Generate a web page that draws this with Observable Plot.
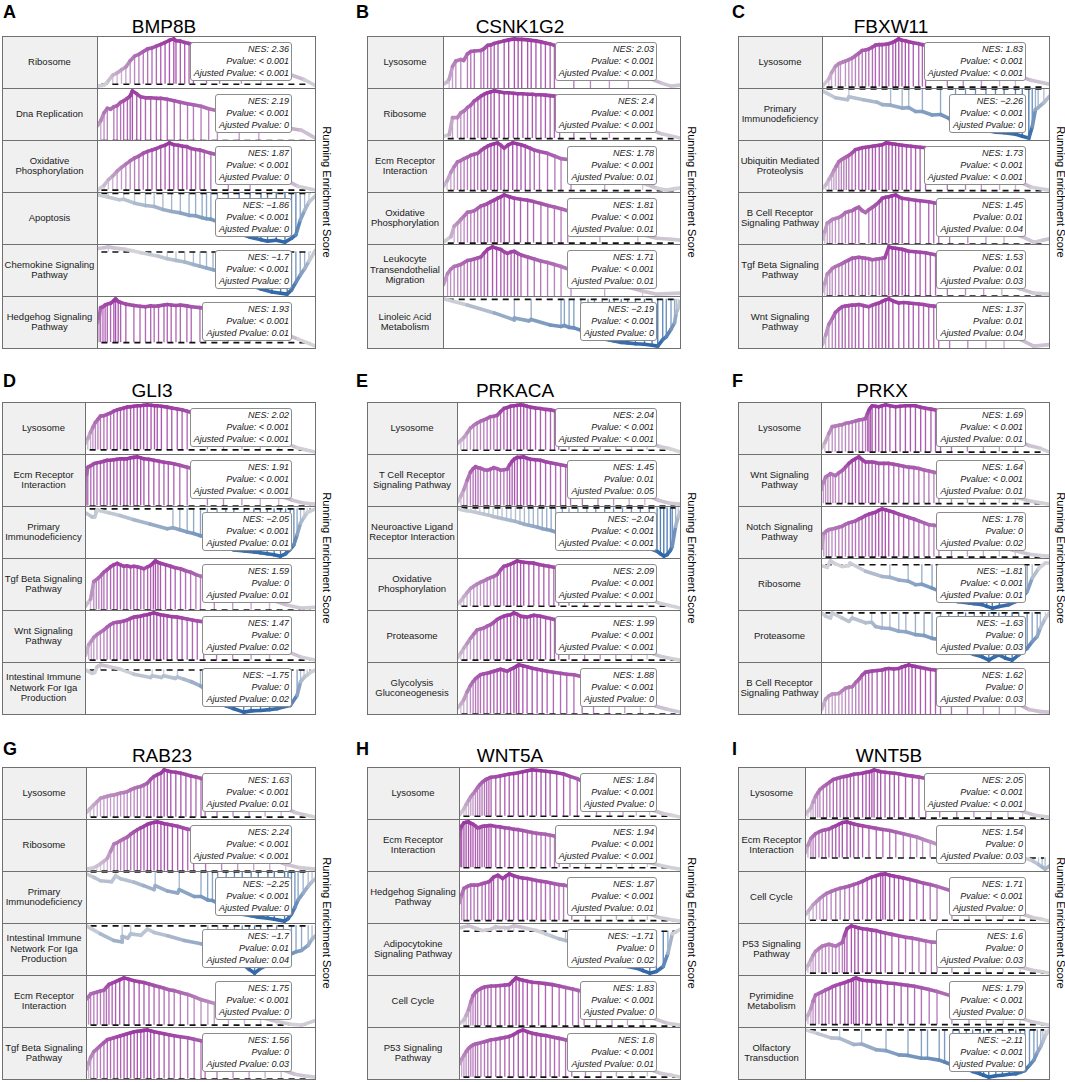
<!DOCTYPE html>
<html><head><meta charset="utf-8">
<script src="https://cdn.jsdelivr.net/npm/d3@7"></script>
<script src="https://cdn.jsdelivr.net/npm/@observablehq/plot@0.6"></script>
<style>
body{margin:0;background:#fff;font-family:"Liberation Sans",Arial,Helvetica,sans-serif;}
#root{position:relative;width:1065px;height:1082px;overflow:hidden;background:#fff;}
#root div{position:absolute;box-sizing:border-box;}
.letter{font-weight:bold;font-size:18px;line-height:1;color:#000;}
.title{font-size:19px;line-height:1;white-space:nowrap;transform:translateX(-50%);color:#000;}
.lab{background:#f0f0f0;display:flex;align-items:center;justify-content:center;text-align:center;white-space:pre;font-size:9.5px;line-height:10.5px;color:#1a1a1a;}
.cell{overflow:hidden;}
.box{background:#fff;border:1px solid #8c8c8c;border-radius:3px;font-style:italic;font-size:9px;line-height:12.2px;text-align:right;padding:0 2px 0 3px;white-space:nowrap;color:#1a1a1a;}
.yl{font-size:11px;line-height:1;white-space:nowrap;transform:translate(-50%,-50%) rotate(90deg);color:#000;}
.ln{background:#707070;}
</style></head>
<body><div id="root"></div>
<script>
// ---------------- data ----------------
const letters = ["A","B","C","D","E","F","G","H","I"];
const genes = ["BMP8B","CSNK1G2","FBXW11","GLI3","PRKACA","PRKX","RAB23","WNT5A","WNT5B"];
const pathways = [
  ["Ribosome","Dna Replication","Oxidative\nPhosphorylation","Apoptosis","Chemokine Signaling\nPathway","Hedgehog Signaling\nPathway"],
  ["Lysosome","Ribosome","Ecm Receptor\nInteraction","Oxidative\nPhosphorylation","Leukocyte\nTransendothelial\nMigration","Linoleic Acid\nMetabolism"],
  ["Lysosome","Primary\nImmunodeficiency","Ubiquitin Mediated\nProteolysis","B Cell Receptor\nSignaling Pathway","Tgf Beta Signaling\nPathway","Wnt Signaling\nPathway"],
  ["Lysosome","Ecm Receptor\nInteraction","Primary\nImmunodeficiency","Tgf Beta Signaling\nPathway","Wnt Signaling\nPathway","Intestinal Immune\nNetwork For Iga\nProduction"],
  ["Lysosome","T Cell Receptor\nSignaling Pathway","Neuroactive Ligand\nReceptor Interaction","Oxidative\nPhosphorylation","Proteasome","Glycolysis\nGluconeogenesis"],
  ["Lysosome","Wnt Signaling\nPathway","Notch Signaling\nPathway","Ribosome","Proteasome","B Cell Receptor\nSignaling Pathway"],
  ["Lysosome","Ribosome","Primary\nImmunodeficiency","Intestinal Immune\nNetwork For Iga\nProduction","Ecm Receptor\nInteraction","Tgf Beta Signaling\nPathway"],
  ["Lysosome","Ecm Receptor\nInteraction","Hedgehog Signaling\nPathway","Adipocytokine\nSignaling Pathway","Cell Cycle","P53 Signaling\nPathway"],
  ["Lysosome","Ecm Receptor\nInteraction","Cell Cycle","P53 Signaling\nPathway","Pyrimidine\nMetabolism","Olfactory\nTransduction"]
];
const nes = [
  [2.36, 2.19, 1.87, -1.86, -1.7, 1.93],
  [2.03, 2.4, 1.78, 1.81, 1.71, -2.19],
  [1.83, -2.26, 1.73, 1.45, 1.53, 1.37],
  [2.02, 1.91, -2.05, 1.59, 1.47, -1.75],
  [2.04, 1.45, -2.04, 2.09, 1.99, 1.88],
  [1.69, 1.64, 1.78, -1.81, -1.63, 1.62],
  [1.63, 2.24, -2.25, -1.7, 1.75, 1.56],
  [1.84, 1.94, 1.87, -1.71, 1.83, 1.8],
  [2.05, 1.54, 1.71, 1.6, 1.79, -2.11]
];
const pvalues = [
  ["< 0.001","< 0.001","< 0.001","< 0.001","< 0.001","< 0.001"],
  ["< 0.001","< 0.001","< 0.001","< 0.001","< 0.001","< 0.001"],
  ["< 0.001","< 0.001","< 0.001","0.01","0.01","0.01"],
  ["< 0.001","< 0.001","< 0.001","0","0","0"],
  ["< 0.001","0.01","< 0.001","< 0.001","< 0.001","< 0.001"],
  ["< 0.001","< 0.001","0","< 0.001","0","0"],
  ["< 0.001","< 0.001","< 0.001","0.01","< 0.001","0"],
  ["< 0.001","< 0.001","< 0.001","0","< 0.001","< 0.001"],
  ["< 0.001","0","< 0.001","0","< 0.001","< 0.001"]
];
const padjusted = [
  ["< 0.001","0","0","0","0","0.01"],
  ["< 0.001","< 0.001","0.01","0.01","0.01","0"],
  ["< 0.001","0","< 0.001","0.04","0.03","0.04"],
  ["< 0.001","< 0.001","0.01","0.01","0.02","0.02"],
  ["< 0.001","0.05","< 0.001","< 0.001","< 0.001","0"],
  ["0.01","0.01","0.02","0.01","0.03","0.03"],
  ["0.01","< 0.001","0","0.04","0","0.03"],
  ["0","< 0.001","0.01","0.02","0","0.01"],
  ["< 0.001","0.03","0","0.03","0","0"]
];
// running enrichment score: "rank%:score" (h = gene hit drawn as a vertical line)
const curvesA = [
  "0:-4 3:-2 5:8h 7:20h 9:25h 11:32h 13:38h 15:52h 17:62h 19:66h 21:72h 23:78h 25:80h 27:84h 29:88h 31:92h 33:97h 35:100h 36:96h 38:95h 40:92h 42:90h 44:88h 50:80h 56:72h 60:65 66:58h 70:50 75:44h 80:35 88:22 95:10 100:-3",
  "0:30 1.5:40h 3:56h 4.5:65h 6:63 7.5:68h 9:70h 10.6:77h 12:80h 13.7:85h 15:90h 16:100h 18:94h 19.8:88h 22:86h 24.4:86h 27:85h 29:85h 32:83h 35.2:80h 38:77h 41.3:74h 44:72h 47.5:69h 51:64h 55:60h 60:55 65:50h 70:45 74:42h 80:35 88:25 93.5:21 100:5",
  "0:0 3:10h 5:22h 7:30h 9:40h 11:48h 13:55h 15:62h 17:68h 19:72h 21:78h 23:82h 25:85h 27:88h 29:92h 31:95h 33:100h 35:96h 37:95h 39:93h 41:92h 43:88h 45:86h 47:85h 49:82h 52:78h 55:75 60:68h 65:60 70:52h 75:45 85:25 92:8 100:0",
  "0:-3 5:-8h 10:-13 12:-12h 17:-20h 22:-25h 26:-27h 30:-33h 34:-37h 38:-40h 42:-45h 45:-46h 48:-50h 50:-52h 52:-53h 55:-58h 60:-70h 65:-82h 70:-90h 75:-95h 78:-98h 82:-96h 86:-100h 89:-92h 91:-85h 93:-55h 95:-35h 97:-18h 100:-5h",
  "0:8 3:10 5:12h 8:9 10:8h 13:6 16:3h 20:-2 24:-6h 28:-10 32:-16h 36:-20h 40:-24h 44:-30h 47:-34h 50:-38h 53:-42h 56:-48h 60:-55h 65:-66h 70:-78h 75:-88h 80:-95h 84:-98h 87:-100h 89:-90h 91:-72h 93:-55h 95:-40h 97:-22h 100:4h",
  "0:45 0.7:55h 1.4:80h 2.5:82h 3.5:86h 4.5:88h 6:90h 7.5:96h 8.3:100h 9.5:94h 10.6:92h 13:88h 16.7:85h 19.5:83h 22:82h 24.4:84h 26:83h 28:84h 30.5:86h 32:87h 33.8:86h 36:85h 38:86h 41:84h 43:82h 47:80h 49.5:77h 55:70 60:62h 65:55 70:48h 75:40 85:22 92:8 100:-8"
];
const curvesB = [
  "0:10 1.5:14 2.4:20h 3.8:45h 5.2:56h 7.3:59h 8.5:57 10.1:70h 11.5:75h 13:76h 15.8:77h 17:80h 18.6:87h 20:88h 21.4:91h 23:93h 25.6:96h 27.5:98h 29.9:100h 31.5:99h 33:99h 35.5:98h 37:97h 39:96h 41.1:94h 43:92h 45:90h 46.8:87h 49.6:84 55:75h 62:62h 70:50h 78:38h 85:25 92:12 96:6 100:8",
  "0:5 2.4:8 3.8:44h 5.9:44h 7.3:54h 8.7:58h 10.1:65h 11.5:70h 13:79h 14.5:84h 15.8:89h 17.2:93h 18.6:96h 20:98h 21.4:100h 23.5:98h 25.6:96h 27.5:96h 29.5:95h 31.3:94h 33.5:94h 35.5:93h 37.5:93h 39:92h 41.1:92h 43:91h 45:90h 46.8:89h 49:87h 55:78h 62:64h 70:50h 78:36 86:22 92:10 100:1",
  "0:9 1.5:20h 3.1:38h 4.5:50h 5.9:60h 7.3:63h 8.7:67h 10.1:70h 11.5:74h 13:76h 14.4:78h 15.8:84h 17.2:89h 18.6:93h 20:96h 21.4:98h 22.8:100h 24.2:95h 25.6:89h 27.4:96h 29.2:100h 31:98h 32.7:96h 34.5:93h 36.5:89h 38.3:85h 40.5:82h 43.9:78h 47:72h 49.6:67h 53.8:64h 60:52 68:40h 76:28 84:16h 90:5 94:1 100:6",
  "0:2 3.1:13 4.5:35h 6:42h 7.3:49h 8.7:56h 10.1:64h 11.5:65h 13:67h 14.4:72h 15.8:77h 17.2:79h 18.6:82h 20:86h 21.4:89h 22.8:93h 24.2:96h 25.6:100h 27.8:96h 29.9:93h 32.5:91h 35.5:89h 38:86h 41.1:82h 44:78h 46.8:75h 49.6:71h 52.4:67h 58:56 66:44h 74:32 82:20h 90:10 96:8 100:6",
  "0:25 1.7:47h 3:55h 4.5:61h 6:63h 7.3:65h 8.7:69h 10.1:73h 11.5:74h 13:76h 14.4:78h 15.8:80h 17.2:88h 18.6:95h 20.7:100h 22.4:97h 24.2:95h 25.6:90h 27:87h 28.5:90h 29.9:91h 31.3:87h 32.7:84h 35.5:80h 38.3:76h 41:72h 43.9:69h 46.8:65h 49.6:61h 53.8:54h 60:44 68:33h 76:22 84:12h 90:6 100:8",
  "0:1 10:-12 21.4:-29 29.9:-44 29.9:-40h 36:-46 37:-43h 45:-55 49.6:-58h 51:-56h 53:-60h 55:-61h 58:-66h 61:-72h 63.7:-80h 67:-84h 70:-87h 72:-89h 75:-92h 77.7:-93h 81:-95h 84.8:-96h 88:-98h 90.4:-100h 92.5:-86h 94:-80h 96:-64h 97.5:-50h 98.2:-29h 99:-18h 100:-4h"
];
const curvesC = [
  "0:2 2.8:17h 4:30h 5.7:43h 7:48h 7.9:50h 9:52 10.1:54h 11.6:57h 13:60h 14.5:65h 16:70h 17.5:76h 19:77h 20.4:79h 22:83h 23.3:87h 25:88h 26.3:88h 28:89h 29.2:90h 31:93h 32.2:96h 33.6:100h 35:97h 36.5:96h 38:94h 40:92h 42.4:90h 44:88h 45.4:87h 48:85 55:75h 62:63h 70:50h 78:37h 85:25h 92:14 100:6",
  "0:-4 5.7:-18 11:-22 11.6:-16h 18:-22 24:-27 26.3:-32 30:-33h 35.1:-39h 38:-38h 41:-46 44:-46h 48.3:-53 52:-52h 55.7:-60 58.6:-70h 63:-74h 67.4:-81h 72:-84h 76.2:-88h 80:-89h 85:-92h 88:-96h 90.9:-100h 92.4:-77h 93.8:-42h 95:-38h 97.5:-28h 100:-15h",
  "0:5 1.5:12h 2.8:23h 4:32h 5:42h 6:50h 7.2:60h 8.3:64h 9.4:67h 10.5:70h 11.6:73h 13:78h 14.5:85h 16:87h 17.5:89h 19:90h 20.4:91h 22:92h 23.3:93h 25:94h 26.3:95h 28:99h 29.2:98h 30.7:97h 32.2:96h 33.6:95h 35.1:94h 37:93h 39:92h 41:91h 43:90h 45.4:89h 48:86 55:75h 63:62h 70:48h 78:35h 85:22h 92:7 100:1",
  "0:10 1:25h 2.1:43h 3.2:46h 4.3:50h 5.7:52h 7.2:54h 8.6:58h 10.1:64h 11.5:66h 13.1:68h 14.5:72h 16:75h 17.5:68 18.9:64 20.4:70h 22:75h 23.3:79h 25:86h 26.3:93h 27.8:95h 29.2:96h 30.7:98h 32.2:100h 33.6:96h 35.1:93h 38:91h 41:89h 43:88h 46.8:86h 49:84h 51.2:82h 56:74h 64:60h 72:45h 80:30h 88:15 93:4 97:8 100:11",
  "0:10 1:25h 2.1:45h 3.2:50h 4.3:56h 5.7:60h 7.2:63h 8.6:66h 10.1:70h 11.5:73h 13.1:77h 14.5:78h 16:79h 17.5:78h 18.9:77h 20.4:76h 21.9:74h 23.5:75h 25:76h 26.3:77h 27.5:78h 29.2:100h 30.7:98h 32.2:97h 33.6:96h 35.1:95h 36.5:93h 38:91h 41:90h 43:89h 45.4:88h 47.5:86h 49.8:84h 55:75h 63:60h 71:45h 79:30h 87:15 93:6 100:4",
  "0:12 1.4:30h 2.8:51h 4.3:62h 5.7:74h 7.2:80h 8.7:85h 10:86h 11.6:87h 13:88h 14.5:88h 16:89h 18:87h 20.4:85h 22:88h 23.5:90h 24.8:92h 26.3:95h 27.8:98h 29.2:100h 31:96h 33.6:92h 35.8:93h 38:92h 40:91h 42.4:90h 44.5:89h 46.8:87h 49:86h 51.2:85h 56:76h 64:62h 72:48h 80:34h 88:20 93:9 100:12"
];
const curvesD = [
  "0:15 1:25h 2.2:39h 3.2:50h 4.3:61h 5.4:68h 6.5:75h 8:76h 9.4:79h 10.9:82h 12.3:86h 13.8:89h 15.2:91h 16.7:93h 18:95h 19.6:96h 21:97h 22.5:98h 23.9:98h 25.3:99h 26.8:100h 28.5:99h 30:98h 31.2:98h 33:97h 35.5:95h 37.5:93h 39.9:91h 42:89h 44.2:86h 46.8:82 53:72h 60:60h 68:46h 76:33h 84:20h 92:5 96:0 100:-5",
  "0:50 0.5:65h 1:79h 2.3:82h 3.6:86h 5:88h 6.5:89h 8:91h 9.4:93h 10.8:93h 12.3:94h 13.7:95h 15.2:96h 16.7:96h 18.1:96h 19.5:98h 21:99h 22.5:100h 24:98h 25.4:96h 27.5:95h 29.7:93h 32:91h 34.1:89h 36:88h 38.4:86h 41:83h 44.2:79h 46.8:76 53:68h 60:58h 68:46h 76:34h 84:22h 90:12 95:6 100:4",
  "0:-8 2.9:-17 4:-17h 5.1:-2h 6.5:-4 10:-8 15:-14 21:-23 28:-32 35.5:-42 38:-40h 41:-44h 44.2:-49h 47:-52h 50:-57h 53:-60h 57.2:-70h 61:-80h 64.5:-87h 69:-89h 73.2:-91h 76:-93h 79:-95h 82:-97h 84.8:-100h 87:-95h 89:-86h 90.6:-76h 92:-55h 93.5:-30h 95:-18h 96.4:-8h 100:0h",
  "0:8 2.2:22h 3.6:58h 4.7:62h 5.8:66h 7:72h 8:77h 9.4:82h 10.9:88h 12.3:92h 13.8:95h 15.2:92h 16.7:89h 18:90h 19.6:88h 21:89h 22.5:88h 24:86h 25.4:84h 27:88h 28.3:91h 29.5:96h 30.4:100h 31.5:97h 32.6:95h 34.8:92h 37:89h 39:86h 41.3:84h 43.5:80h 45.7:77h 48:72h 50:69h 56:60h 64:48h 72:35h 80:22h 88:10 94:4 100:6",
  "0:10 1.4:33h 2.5:40h 3.6:48h 5:54h 6.5:59h 8:64h 9.4:70h 10.8:75h 12.3:79h 13.7:80h 15.2:81h 16.7:83h 18.1:85h 19.5:88h 21:91h 22.5:92h 23.9:93h 25.3:95h 26.8:96h 28.2:98h 29.7:100h 31:98h 32.6:96h 34:95h 35.5:94h 37.5:92h 39.9:91h 42:89h 44.2:87h 46.5:85h 48.6:83h 51.4:81h 57:72h 64:60h 72:46h 80:32h 88:18 94:6 100:0",
  "0:0 2.9:-8 4:-6h 5.1:8h 6.5:12h 10:8 15:2 21:-10 28.3:-18 29:-14h 33:-18 34:-14h 39:-20 40:-17h 42.8:-22 46:-28 50:-38h 53:-50h 57.2:-75h 61:-85h 64.5:-92h 68.8:-100h 72:-97h 76.1:-96h 80:-94h 83.3:-92h 86:-88h 89.1:-84h 92:-60h 93.5:-28h 95:-18h 96.4:-12h 98:-5h 100:0h"
];
const curvesE = [
  "0:15 1.5:22h 2.8:28h 4.3:38h 5.8:49h 7.3:55h 8.8:60h 10.3:64h 11.8:67h 13.3:70h 14.8:74h 16.3:75h 17.8:77h 19.3:85h 20.8:92h 22.3:94h 23.8:97h 25.3:98h 26.8:99h 28.3:100h 29.7:99h 31.2:97h 32.7:95h 35:93h 37.2:92h 39.5:90h 41.7:89h 43.5:87h 45.4:86h 50:78h 57:66h 64:54h 71:42h 78:30h 85:18h 91:8 95:4 100:-4",
  "0:8 1.5:20h 2.8:33h 4.3:52h 5.8:69h 7:76h 8.1:80h 9.2:78h 10.3:77h 11.8:74h 13.3:73h 14.8:75h 16.3:78h 17.8:76h 19.3:73h 20.8:74h 22.3:75h 23.4:84h 24.5:91h 25.6:96h 26.8:99h 28.3:99h 29.7:100h 31.2:97h 32.7:95h 35:94h 37.2:93h 39.5:90h 41.7:88h 44:86h 46.2:84h 48.5:82h 50.7:80h 56:72h 63:60h 70:48h 77:36h 84:24h 90:12 95:6 100:4",
  "0:-2 2:-4h 4:-6h 6:-7h 8:-9h 10:-11h 12:-13h 14:-15h 16:-18h 18:-20h 20:-22h 22:-24h 24:-26h 26:-28h 28:-31h 30:-34h 32:-36h 34:-38h 36:-40h 38:-43h 40:-45h 42:-47h 44:-50h 47:-52h 50:-55h 54:-58h 58:-61h 62:-64h 66:-67h 70:-70h 74:-73h 78:-76h 82:-80h 86:-84h 89.5:-90h 91:-95h 92.5:-100h 94:-97h 95.5:-88h 96.3:-80h 97.8:-38h 99:-18h 100:-8h",
  "0:5 1.5:12h 2.8:21h 4.3:30h 5.8:39h 7.3:44h 8.8:49h 10.3:53h 11.8:56h 13.3:60h 14.8:63h 16.3:66h 17.8:70h 19.3:80h 20.8:88h 22.3:90h 23.8:93h 25.3:96h 26.8:100h 28.3:98h 29.7:97h 32:96h 34.2:95h 36.5:92h 38.7:90h 41:88h 43.2:86h 45.4:85h 50:78h 57:66h 64:54h 71:42h 78:30h 85:18h 91:6 95:2 100:-4",
  "0:5 1.5:15h 2.8:25h 4.3:35h 5.8:46h 7.3:55h 8.8:64h 10.3:66h 11.8:68h 13.3:72h 14.8:75h 16.3:80h 17.8:86h 19.3:90h 20.8:93h 22.3:95h 23.8:96h 25.3:100h 26.8:97h 28.3:93h 29.7:92h 31.2:91h 32.7:93h 34.2:95h 35.7:94h 37.2:93h 39.5:90h 41.7:88h 43.5:86h 45.4:84h 50:77h 57:66h 64:54h 71:42h 78:30h 85:18h 91:8 95:4 100:0",
  "0:12 1.5:20h 2.8:29h 4.3:45h 5.8:58h 7:66h 8.1:72h 9.2:76h 10.3:80h 11.8:82h 13.3:83h 14.8:85h 16.3:87h 17.8:89h 19.3:91h 20.8:89h 22.3:87h 23.8:91h 25.3:94h 26.4:97h 27.5:100h 29.3:98h 31.2:96h 33.5:93h 35.7:91h 38:89h 40.2:87h 43:85h 46.2:83h 49:81h 52.2:80h 55.9:76h 61:68h 68:56h 75:44h 82:30h 89:16 94:10 100:4"
];
const curvesF = [
  "0:8 1.5:20h 3.2:39h 4.7:54h 6:55h 7.6:57h 9:58h 10.5:61h 12:62h 13.5:64h 15:66h 16.4:68h 18:69h 19.3:71h 20.2:82h 20.8:89h 21.5:94h 22.2:98h 23.7:97h 25.1:96h 26.6:98h 28.1:100h 30:98h 32.5:96h 34.5:97h 36.8:98h 39:98h 41.2:98h 43.5:95h 45.6:93h 48:91h 50:89h 52.2:86h 57:78h 64:66h 71:54h 78:42h 85:28h 91:14 96:8 100:0",
  "0:30 0.8:45h 1.8:57h 2.8:60h 3.9:64h 5:62h 6.1:60h 7.6:66h 9.1:71h 10.5:78h 12:86h 13.5:92h 14.9:96h 16.4:100h 17.8:94h 19.3:89h 20.7:89h 22.2:89h 23.7:88h 25.1:86h 27.3:86h 29.5:86h 31.7:84h 33.9:82h 36:80h 38.3:78h 40.5:77h 42.7:75h 45:72h 47.1:70h 49.3:67h 51.5:65h 57:56h 64:45h 71:34h 78:24h 85:14h 91:6 96:2 100:-1",
  "0:18 1:49h 2.1:54h 3.2:57h 4.6:58h 6.1:60h 7.6:62h 9.1:64h 10.5:68h 12:71h 13.5:73h 14.9:75h 16.4:79h 17.8:82h 19.3:86h 20.8:89h 22.2:91h 23.7:93h 25.1:97h 26.6:100h 28:98h 29.5:96h 31.7:93h 33.9:89h 36:86h 38.3:82h 40.5:79h 42.7:75h 45:71h 47.1:67h 49.3:66h 51.5:64h 57:55h 64:44h 71:33h 78:22h 85:13h 91:6 96:3 100:2",
  "0:-2 2.5:-6 3.9:9h 6.1:2 9.1:-4 12:-2h 12.5:4h 19.3:-15 26.6:-27 30:-29h 33.9:-35 38:-38h 41.2:-46 44:-45h 48.5:-54h 52.2:-62h 55.8:-81h 60:-85h 64.6:-88h 67:-90h 70.5:-92h 72.5:-96h 74.9:-100h 78:-96h 82.2:-92h 85.1:-85h 88:-75h 90.2:-62h 92.4:-31h 95.3:-8h 98.2:4h 100:4",
  "0:0 1.8:-7 3.9:-11 4.7:0h 9.1:-11 12:-18 13.5:-11h 19.3:-21 22:-20h 23.7:-29 26.6:-32h 30:-33h 33.9:-39h 37:-40h 41.2:-46h 45:-48h 48.5:-54h 52.2:-57h 55.8:-68h 60:-76h 63.2:-82h 67:-88h 70.5:-93h 73.4:-100h 75.5:-94h 77.8:-89h 80.7:-96h 83.6:-100h 86.5:-89h 90.2:-75h 92.4:-61h 94.6:-50h 96:-32h 98.2:-11h 100:0h",
  "0:14 1.8:34h 3.2:40h 4.7:44h 6:44h 7.6:45h 9:50h 10.5:55h 12:57h 13.5:58h 15:66h 16.4:72h 17.8:80h 19.3:86h 20.7:87h 22.2:88h 24.4:89h 26.6:90h 28:92h 29.5:93h 31.7:92h 33.9:93h 35.3:96h 36.8:98h 38.3:100h 39.7:98h 41.2:97h 43.4:95h 45.6:93h 47.8:91h 50:90h 52.2:88h 57:80h 64:68h 71:55h 78:42h 85:28h 91:14 96:10 100:9"
];
const curvesG = [
  "0:10 1.6:18h 3.2:26h 4.7:33h 6.1:40h 7.6:42h 9.1:44h 10.5:46h 12:47h 13.5:49h 14.9:51h 16.4:52h 17.8:54h 19.3:58h 20.8:61h 22.2:63h 23.7:65h 25.1:68h 26.6:72h 28:80h 29.5:86h 31:90h 32.5:93h 33.9:100h 35.3:98h 36.8:96h 39:95h 41.2:93h 43.4:90h 45.6:87h 47.8:85h 50:82h 51.8:80h 57:72h 64:60h 71:48h 78:36h 85:24h 91:10 96:4 100:0",
  "0:4 3.2:7 4.5:10h 6.1:15h 7.6:20h 9.1:26h 10.5:40h 12:55h 13.5:58h 14.9:62h 16.4:66h 17.8:69h 19.3:75h 20.8:80h 22.2:84h 23.7:88h 25.1:91h 26.6:95h 28:97h 29.5:99h 31:100h 32.5:98h 34:96h 35.4:95h 37.5:93h 39.8:91h 42:88h 44.2:85h 46.8:84h 52:75h 59:63h 66:50h 73:38h 80:26h 87:14h 93:7 100:4",
  "0:-4 3.2:-11 6.1:-18 11:-20 12.7:-8h 14.9:-14 20.8:-21 25:-28 29.5:-36 30:-28h 35.4:-39 39.8:-43 40.5:-36h 47.1:-50 50:-50h 52.9:-57h 55:-58h 57.3:-64h 61:-75h 64.6:-82h 68:-86h 71.9:-89h 75:-92h 79.2:-94h 82:-96h 86.5:-100h 88:-95h 89.5:-86h 91:-72h 92.4:-57h 94.6:-43h 96.8:-29h 98.5:-20h 100:-14h",
  "0:0 6.1:-17 12:-31 15.6:-34 15.6:-22h 18:-26 19.3:-17h 23.7:-20 26.6:-7h 29.5:-14 35.4:-21 42.7:-31 50:-38 53:-40h 57.3:-48h 61:-60h 64.6:-70h 68:-80h 71:-92h 73.4:-100h 76:-90h 79.2:-82h 83:-75h 86:-68h 89.5:-59h 91.5:-55h 93.9:-52h 96.8:-41h 98.5:-28h 100:-21h",
  "0:55 0.9:60h 1.8:66h 3.2:68h 4.7:70h 6.1:72h 7.6:74h 8.7:80h 9.8:86h 11.2:89h 12.7:92h 14.5:96h 16.4:100h 18.5:97h 20.8:94h 23:92h 25.1:90h 27.3:87h 29.5:84h 31.7:81h 33.9:78h 36:75h 38.3:73h 41:69h 44.2:65h 47:60h 50:54h 53:50h 55.8:46h 62:36h 69:26h 76:16h 83:8h 89:2 94:0 100:10",
  "0:20 0.9:32h 1.8:44h 3.2:56h 4.7:62h 6.1:68h 7.6:74h 9.1:80h 10.5:82h 12:84h 13.5:86h 14.9:88h 16.4:90h 17.8:92h 19.3:94h 20.8:96h 22.2:97h 23.7:98h 25.1:99h 26.6:100h 28:98h 29.5:96h 31.7:94h 33.9:92h 36:90h 38.3:88h 41:86h 44.2:84h 47:81h 50:78h 51.8:76h 57:68h 64:56h 71:44h 78:32h 85:20h 91:10 96:6 100:4"
];
const curvesH = [
  "0:3 2:16h 3:25h 4.1:34h 5.1:42h 6.1:48h 7.2:55h 8.2:62h 9.2:68h 10.2:73h 11.3:77h 12.3:80h 13.3:82h 14.3:84h 16.4:85h 18.4:87h 20.5:89h 22.5:91h 24.5:92h 26.6:94h 28.6:96h 30.7:98h 32.8:100h 34.8:99h 36.9:98h 39:97h 41:96h 44:94h 47.1:91h 50:86h 53.3:81h 56.4:73 62:62h 68:50h 74:38h 80:26h 86:15h 92:6 96:2 100:-2",
  "0:70 0.5:85h 1:91h 2:98h 3:99h 4.1:100h 5.1:97h 6.1:95h 7.2:91h 8.2:87h 9.2:88h 10.2:90h 11.3:91h 12.3:91h 13.3:92h 14.3:92h 16.4:90h 18.4:89h 20.5:87h 22.5:86h 24.5:84h 26.6:83h 28.6:81h 30.7:79h 32.8:77h 34.8:75h 36.9:74h 38.9:73h 41:71h 43:69h 45.1:68h 50:62h 57:52h 64:42h 71:32h 78:22h 85:12h 91:5 96:0 100:-3",
  "0:38 1:55h 2:69h 3.5:73h 5.1:76h 6.6:76h 8.2:76h 10.2:79h 11.7:81h 13.3:83h 14.4:88h 15.4:93h 17.4:97h 19.5:90h 21:95h 22.5:100h 24.5:96h 26.6:93h 28.6:91h 30.7:90h 32.8:88h 34.8:86h 36.9:84h 38.9:83h 41:81h 43:79h 45:77h 47.1:76h 50.8:72h 57:62h 64:50h 71:38h 78:26h 85:15h 91:6 96:2 100:-1",
  "0:8 4.1:13 7:8 10.2:2 12:3h 14.3:5 16.4:11h 18:9 20.5:9h 22:8 24.6:13h 28.7:9 31:6 34.8:2 38.9:-6 42:-12 45.1:-18 48:-22h 50.8:-26 55:-35h 60:-50h 64:-62h 67.6:-70h 72:-78h 76:-84h 79.9:-88h 83:-94h 86.1:-100h 89.1:-96h 92.2:-84h 94.3:-53h 96.3:-6h 98.4:0h 100:5h",
  "0:5 2:13h 3:22h 4.1:34h 5.1:50h 6.1:63h 7.2:70h 8.2:74h 9.7:78h 11.3:81h 12.8:82h 14.3:83h 16.4:83h 18.4:84h 20.5:85h 22.5:86h 24:93h 25.6:100h 27:97h 28.7:95h 30.7:93h 32.8:91h 35.8:90h 38.9:88h 42:86h 45.1:83h 48:80h 51.2:77h 53.8:74h 56.4:71h 62:62h 69:50h 76:38h 83:26h 89:14 94:6 100:2",
  "0:28 1:38h 2:46h 3:54h 4.1:61h 5.1:65h 6.1:68h 7.2:70h 8.2:71h 9.7:73h 11.3:75h 12.8:77h 14.3:79h 16.4:80h 18.4:82h 20.5:84h 22.5:86h 24.5:90h 26.6:96h 28.7:100h 30.7:96h 32.8:93h 34.8:91h 36.9:89h 39:88h 41:86h 43:84h 45.1:82h 48:79h 50.8:75h 57:65h 64:53h 71:41h 78:29h 85:18h 91:8 96:4 100:0"
];
const curvesI = [
  "0:8 1:14h 2.2:21h 3.1:33h 4.1:45h 5:52h 5.9:59h 7.3:65h 8.7:70h 10:75h 11.4:80h 12.8:82h 14.2:84h 15.6:86h 17:87h 18.4:89h 19.8:91h 21.6:92h 23.4:93h 24.8:95h 26.2:96h 27.2:98h 28.1:100h 29.5:98h 30.8:96h 32.6:95h 34.5:94h 36.4:93h 38.2:92h 41:89h 43.8:87h 46.5:85h 49.3:82h 55:73h 62:61h 69:49h 76:37h 83:25h 89:14h 94:6 100:2",
  "0:15 1:35h 2.2:54h 3.1:60h 4.1:67h 5.5:72h 6.8:76h 8.2:78h 9.6:80h 11:85h 12.4:89h 13.8:94h 15.1:98h 17:100h 18.4:97h 19.8:94h 21.6:91h 23.4:89h 26:86h 29:82h 31.7:79h 34.5:76h 37:72h 40.1:67h 43:62h 45.6:58h 48:52h 51.1:45h 54.8:36h 60:28 66:20h 72:12h 78:6h 84:2h 89:0 91.8:-4h 93.5:-10h 95.5:-18h 97:-25h 98.2:-31h 100:-22h",
  "0:12 1.5:22h 3.1:33h 4.5:40h 5.9:47h 7.3:53h 8.7:58h 10.5:62h 12.4:66h 14.2:69h 16.1:71h 18:74h 19.8:77h 21.6:80h 23.4:84h 25.3:89h 27.1:93h 29:96h 30.8:99h 31.7:99h 32.7:100h 34.5:97h 36.4:95h 38.2:93h 40.1:91h 42.8:88h 45.6:84h 48.3:80h 51.1:77h 53.9:73h 60:63h 67:51h 74:39h 81:27h 88:15h 93:6 97:2 100:-2",
  "0:8 1:16h 2.2:28h 3.1:38h 4.1:46h 5.5:52h 6.8:57h 8.2:59h 9.6:61h 11:59h 12.4:57h 13.8:61h 15.1:65h 16:80h 17:94h 18.8:100h 20.2:98h 21.6:96h 23.4:94h 25.3:93h 27.1:91h 29:90h 30.8:87h 32.7:85h 35.4:82h 38.2:79h 41:76h 43.8:74h 46.5:71h 49.3:68h 51.6:66h 53.9:65h 60:56h 67:45h 74:34h 81:23h 88:13h 93:6 97:3 100:0",
  "0:10 1:20h 2.2:34h 3.1:50h 4.1:63h 5.5:67h 6.8:70h 8.2:74h 9.6:77h 11:81h 12.4:84h 14.2:87h 16.1:90h 17.5:93h 18.8:95h 19.7:98h 20.7:100h 22:97h 23.4:95h 25.3:94h 27.1:93h 29:92h 30.8:91h 33.6:89h 36.4:88h 39.2:86h 41.9:84h 44.7:82h 47.5:79h 50.7:75h 53.9:71h 60:61h 67:49h 74:37h 81:25h 88:14h 93:6 97:2 100:-1",
  "0:0 5:-8 10.5:-17 14:-18h 19.8:-31 23:-30h 29:-42 33:-44h 38.2:-53 42:-54h 47.5:-60h 50:-60h 54.8:-64h 57:-68h 60.4:-75h 63:-79h 65.9:-82h 68.5:-88h 71.5:-93h 73:-96h 75.1:-100h 78:-97h 80.7:-96h 83.5:-94h 86.2:-93h 88:-90h 89.9:-86h 91.8:-75h 93.6:-64h 95:-48h 96.4:-35h 97.3:-24h 98.2:-13h 99.1:-6h 100:0h"
];
const curves = [curvesA, curvesB, curvesC, curvesD, curvesE, curvesF, curvesG, curvesH, curvesI];

// ---------------- layout ----------------
const colLeft = [2, 367, 738], colRight = [315, 680, 1049], panelTop = [36, 402, 767];
const labelRight = [97, 443, 822, 85, 457, 821, 86, 459, 805];
const letterX = [3, 356, 732], letterY = [3, 372, 740];
const titleCX = [164, 520, 891, 152, 515, 882, 162, 510, 889], titleY = [17, 381, 746];
const RH = 52;
const PURPLE = "#9a36a0", GRAY = "#d3d3d8", BLUE = "#2c65a8";

const root = document.getElementById("root");
function add(cls, css, text) {
  const d = document.createElement("div");
  if (cls) d.className = cls;
  Object.assign(d.style, css);
  if (text !== undefined) d.textContent = text;
  root.appendChild(d);
  return d;
}
const px = v => v + "px";
const fmt = v => String(v).replace("-", "\u2212");

function parseCurve(s) {
  return s.trim().split(/\s+/).map(t => {
    const h = t.endsWith("h");
    const [x, y] = t.replace("h", "").split(":").map(Number);
    return {x, y, h};
  });
}

function rowPlot(spec, w) {
  const pts = parseCurve(spec);
  const lo = d3.min(pts, d => d.y), hi = d3.max(pts, d => d.y);
  const pad = (hi - lo) * 0.05;
  const m = Math.max(Math.abs(lo), Math.abs(hi));
  const segs = d3.pairs(pts).map(([a, b]) => ({x1: a.x, y1: a.y, x2: b.x, y2: b.y, v: (a.y + b.y) / 2}));
  return Plot.plot({
    width: w, height: RH, margin: 0,
    style: {background: "transparent"},
    x: {domain: [0, 100], axis: null},
    y: {domain: [lo - pad, hi + pad], axis: null},
    color: {type: "linear", domain: [-m, 0, m], range: [BLUE, GRAY, PURPLE]},
    marks: [
      Plot.ruleX(pts.filter(d => d.h), {x: "x", y1: 0, y2: "y", stroke: "y", strokeWidth: 1.35, strokeOpacity: 0.85}),
      Plot.ruleY([{y: 0, a: 2, b: 98}], {y: "y", x1: "a", x2: "b", stroke: "#111", strokeWidth: 1.6, strokeDasharray: "6,5"}),
      Plot.link(segs, {x1: "x1", y1: "y1", x2: "x2", y2: "y2", stroke: "v", strokeWidth: 3.6, strokeLinecap: "round"})
    ]
  });
}

for (let p = 0; p < 9; p++) {
  const c = p % 3, r = Math.floor(p / 3);
  const L = colLeft[c], R = colRight[c], T = panelTop[r], LR = labelRight[p];
  add("letter", {left: px(letterX[c]), top: px(letterY[r])}, letters[p]);
  add("title", {left: px(titleCX[p]), top: px(titleY[r])}, genes[p]);
  for (let i = 0; i < 6; i++) {
    const y0 = T + i * RH;
    add("lab", {left: px(L), top: px(y0), width: px(LR - L), height: px(RH)}, pathways[p][i]);
    const cell = add("cell", {left: px(LR), top: px(y0), width: px(R - LR), height: px(RH)});
    cell.appendChild(rowPlot(curves[p][i], R - LR));
    const box = add("box", {right: px(1065 - (R - 23)), top: px(y0 + 6)});
    box.innerHTML = "NES: " + fmt(nes[p][i]) + "<br>Pvalue: " + pvalues[p][i] + "<br>Ajusted Pvalue: " + padjusted[p][i];
  }
  // frame lines
  add("", {left: px(L), top: px(T), width: px(R - L + 1), height: px(6 * RH + 1), border: "1px solid #707070"});
  for (let i = 1; i < 6; i++) add("ln", {left: px(L), top: px(T + i * RH), width: px(R - L), height: "1px"});
  add("ln", {left: px(LR), top: px(T), width: "1px", height: px(6 * RH)});
  add("yl", {left: px(R + 11), top: px(T + 3 * RH)}, "Running Enrichment Score");
}
</script>
</body></html>
